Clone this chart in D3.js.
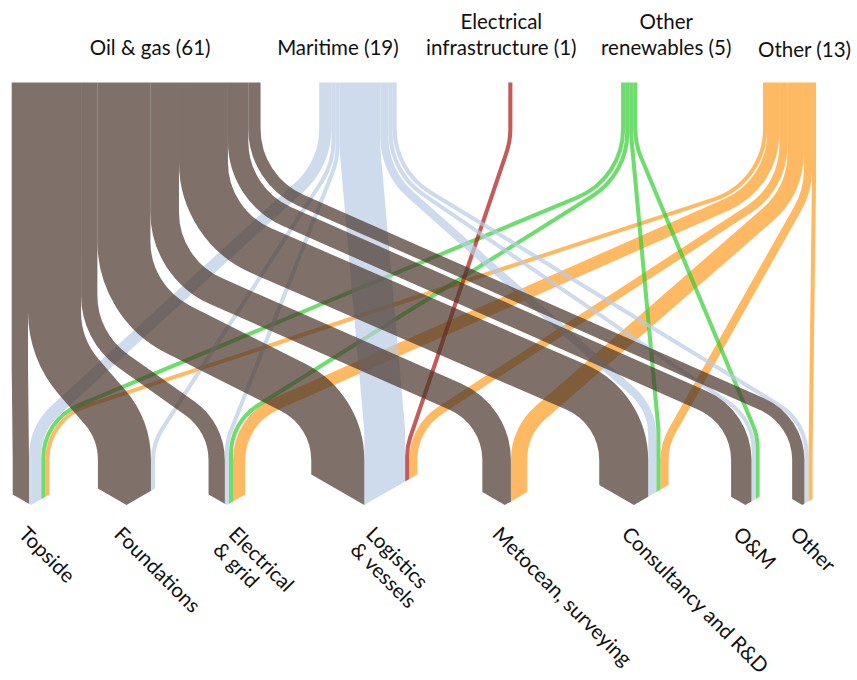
<!DOCTYPE html>
<html>
<head>
<meta charset="utf-8">
<script src="https://cdn.jsdelivr.net/npm/d3@7"></script>
<style>
  body { margin: 0; background: #fff; }
  svg { display: block; }
  text { font-family: Lato, "Open Sans", sans-serif; fill: #111; }
</style>
</head>
<body>
<svg id="chart" width="857" height="680"></svg>
<script>
// ---- data -------------------------------------------------------------
const sources = ["Oil & gas", "Maritime", "Electrical infrastructure", "Other renewables", "Other"];
const sourceLabels = [["Oil & gas (61)"], ["Maritime (19)"], ["Electrical", "infrastructure (1)"], ["Other", "renewables (5)"], ["Other (13)"]];
const targets = ["Topside", "Foundations", "Electrical & grid", "Logistics & vessels", "Metocean, surveying", "Consultancy and R&D", "O&M", "Other"];
const targetLabels = [["Topside"], ["Foundations"], ["Electrical", "& grid"], ["Logistics", "& vessels"], ["Metocean, surveying"], ["Consultancy and R&D"], ["O&M"], ["Other"]];

// number of companies per source -> target (same order as targets)
const oilGas     = [4, 13, 4, 13, 7, 12, 5, 3];
const maritime   = [3, 1, 1, 10, 0, 2, 1, 1];
const elecInfra  = [0, 0, 0, 1, 0, 0, 0, 0];
const renewables = [1, 0, 1, 0, 0, 1, 1, 0];
const otherSrc   = [1, 0, 3, 2, 4, 2, 0, 1];
const flows = [oilGas, maritime, elecInfra, renewables, otherSrc];

// ---- layout -----------------------------------------------------------
const W = 857, H = 680;
const topY = 82.5;          // top edge of the source bands
const tipY = 505;           // tip of the arrow-shaped target ends
const tipSlope = Math.tan(Math.PI / 6);
const sourceGaps = [11.7, 58.6, 111.6, 108.7, 125.6];
const targetGaps = [12.7, 48.5, 53.5, 66, 65, 72, 62.5, 32.5];
const headDx = [14, -20, -9, 37, 15];
const headDy = [0, 0, 0, 0, 2];
const colors = ["#483429", "#b9cce4", "#ab1616", "#30ce30", "#ff9b1f"];
const bandOpacity = 0.7;
const innerTop = 72, innerBottom = 55;   // inner-edge radii of the bends

const unit = d3.scaleLinear().domain([0, 1]).range([0, 4.08]);

const svg = d3.select("#chart");

// node extents
const sourceTotals = flows.map(r => d3.sum(r));
const targetTotals = targets.map((_, j) => d3.sum(flows, r => r[j]));
function place(totals, gaps) {
  let x = 0;
  return totals.map((v, i) => {
    x += gaps[i];
    const n = { x0: x, x1: x + unit(v) };
    x = n.x1;
    return n;
  });
}
const sNodes = place(sourceTotals, sourceGaps);
const tNodes = place(targetTotals, targetGaps);

// links: stacked inside each source by target order, inside each target by source order
const links = [];
flows.forEach((row, i) => row.forEach((v, j) => { if (v > 0) links.push({ s: i, t: j, v }); }));
const sOff = sNodes.map(n => n.x0), tOff = tNodes.map(n => n.x0);
links.forEach(l => {
  l.w = unit(l.v);
  l.a0 = sOff[l.s]; l.a1 = l.a0 + l.w; sOff[l.s] = l.a1;
});
links.slice().sort((a, b) => a.t - b.t || a.s - b.s).forEach(l => {
  l.b0 = tOff[l.t]; l.b1 = l.b0 + l.w; tOff[l.t] = l.b1;
});

// where each band turns: the band nearest the node side it turns to bends first
links.forEach(l => {
  const xs = (l.a0 + l.a1) / 2, xt = (l.b0 + l.b1) / 2;
  const sn = sNodes[l.s], tn = tNodes[l.t];
  const right = xt >= xs;
  const dTop = right ? sn.x1 - l.a1 : l.a0 - sn.x0;
  const dBot = right ? l.b0 - tn.x0 : tn.x1 - l.b1;
  l.xs = xs; l.xt = xt;
  l.yA = 129 + 1.02 * dTop;
  l.yB = 460 - 0.5 * dBot;
});

function bandPath(l) {
  const x0 = l.xs, x1 = l.xt, yA = l.yA, yB = l.yB;
  const bottom = tipY + 20;
  const adx = Math.abs(x1 - x0);
  if (adx < 0.01) return `M${x0},${topY}V${bottom}`;
  const dir = Math.sign(x1 - x0);
  const R1 = innerTop + l.w / 2, R2 = innerBottom + l.w / 2;
  let f = 1, r1, r2, alpha = 0;
  for (let k = 0; k < 60; k++) {
    r1 = R1 * f; r2 = R2 * f;
    const dxp = adx - r1 - r2, dyp = yB - yA;
    const L = Math.hypot(dxp, dyp), Rs = r1 + r2;
    if (L > Rs * 1.0001) {
      alpha = Math.acos(-Rs / L) - Math.atan2(dyp, dxp);
      if (alpha > 0) break;
    }
    f *= 0.9;
  }
  const X = u => x0 + dir * u;
  const p1 = [r1 - r1 * Math.cos(alpha), yA + r1 * Math.sin(alpha)];
  const p2 = [adx - r2 + r2 * Math.cos(alpha), yB - r2 * Math.sin(alpha)];
  const s1 = dir > 0 ? 0 : 1, s2 = dir > 0 ? 1 : 0;
  return `M${x0},${topY}V${yA}` +
    `A${r1},${r1} 0 0 ${s1} ${X(p1[0])},${p1[1]}` +
    `L${X(p2[0])},${p2[1]}` +
    `A${r2},${r2} 0 0 ${s2} ${x1},${yB}` +
    `V${bottom}`;
}

// arrow-shaped ends of the target nodes
const clipPts = [[0, 0], [W, 0]];
const edgeY = n => tipY - (n.x1 - n.x0) / 2 * tipSlope;
clipPts.push([W, edgeY(tNodes[tNodes.length - 1])]);
tNodes.slice().reverse().forEach(n => {
  clipPts.push([n.x1, edgeY(n)], [(n.x0 + n.x1) / 2, tipY], [n.x0, edgeY(n)]);
});
clipPts.push([0, edgeY(tNodes[0])]);
svg.append("defs").append("clipPath").attr("id", "ends")
  .append("polygon").attr("points", clipPts.map(p => p.join(",")).join(" "));

const gBands = svg.append("g").attr("clip-path", "url(#ends)");
gBands.selectAll("path")
  .data(links.slice().sort((a, b) => b.s - a.s))
  .join("path")
  .attr("d", bandPath)
  .attr("fill", "none")
  .attr("stroke", d => colors[d.s])
  .attr("stroke-opacity", bandOpacity)
  .attr("stroke-width", d => d.w);

// source labels
const fontSize = 20.5;
const headBase = 55, headLine = 26;
sNodes.forEach((n, i) => {
  const lines = sourceLabels[i];
  const t = svg.append("text")
    .attr("text-anchor", "middle")
    .attr("font-size", fontSize);
  lines.forEach((s, k) => {
    t.append("tspan")
      .attr("x", (n.x0 + n.x1) / 2 + headDx[i])
      .attr("y", headBase + headDy[i] - headLine * (lines.length - 1 - k))
      .text(s);
  });
});

// target labels, rotated
const footSize = 20.5, footY = 525, footLine = 22;
tNodes.forEach((n, j) => {
  const lines = targetLabels[j];
  const cx = (n.x0 + n.x1) / 2 - 3 + (lines.length - 1) * 14;
  const t = svg.append("text")
    .attr("font-size", footSize)
    .attr("transform", `translate(${cx},${footY}) rotate(45)`);
  lines.forEach((s, k) => {
    t.append("tspan").attr("x", 0).attr("y", k * footLine).attr("dy", "0.72em").text(s);
  });
});
</script>
</body>
</html>
